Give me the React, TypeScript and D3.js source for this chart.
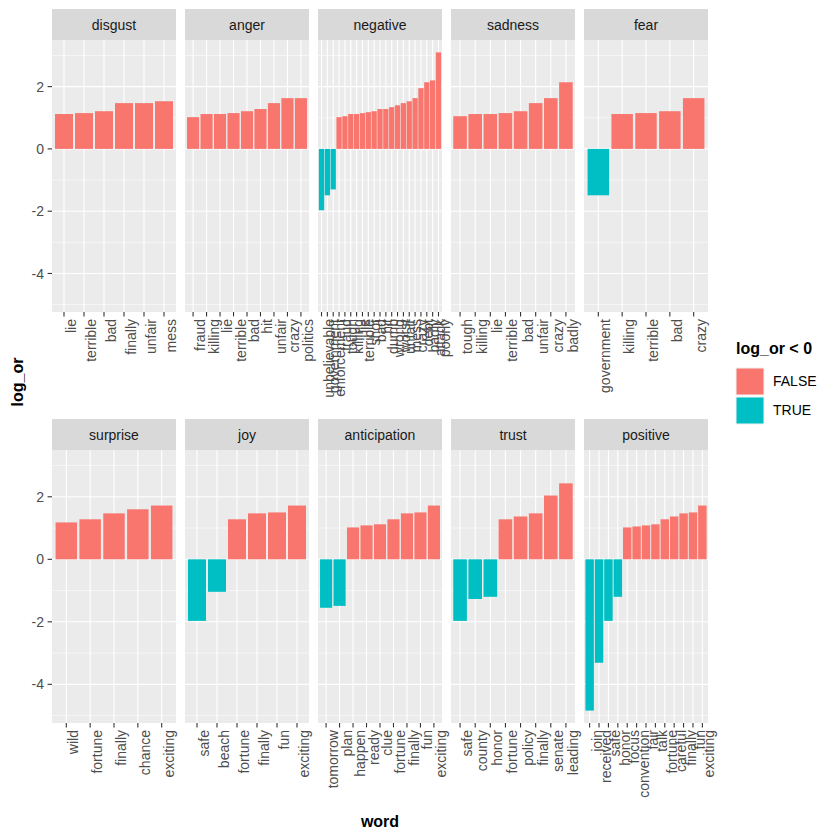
import React, { useEffect, useRef } from "react";
import * as d3 from "d3";

// words and log odds ratios per emotion
const disgustWords = ["lie", "terrible", "bad", "finally", "unfair", "mess"];
const disgustValues = [1.12, 1.15, 1.21, 1.47, 1.47, 1.53];

const angerWords = ["fraud", "killing", "lie", "terrible", "bad", "hit", "unfair", "crazy", "politics"];
const angerValues = [1.02, 1.12, 1.12, 1.15, 1.21, 1.28, 1.47, 1.63, 1.63];

const negativeWords = [
  "unbelievable", "government", "enforcement", "fraud", "tough", "killing", "lie",
  "terrible", "shot", "bad", "hit", "dumb", "wrong", "worst", "unfair", "mess",
  "crazy", "debt", "badly", "attack", "poorly",
];
const negativeValues = [
  -1.97, -1.49, -1.3, 1.02, 1.05, 1.12, 1.12, 1.15, 1.18, 1.21, 1.28, 1.28, 1.34,
  1.4, 1.47, 1.53, 1.63, 1.95, 2.14, 2.2, 3.1,
];

const sadnessWords = ["tough", "killing", "lie", "terrible", "bad", "unfair", "crazy", "badly"];
const sadnessValues = [1.05, 1.12, 1.12, 1.15, 1.21, 1.47, 1.63, 2.14];

const fearWords = ["government", "killing", "terrible", "bad", "crazy"];
const fearValues = [-1.49, 1.12, 1.15, 1.21, 1.63];

const surpriseWords = ["wild", "fortune", "finally", "chance", "exciting"];
const surpriseValues = [1.18, 1.28, 1.47, 1.6, 1.72];

const joyWords = ["safe", "beach", "fortune", "finally", "fun", "exciting"];
const joyValues = [-1.97, -1.04, 1.28, 1.47, 1.5, 1.72];

const anticipationWords = ["tomorrow", "plan", "happen", "ready", "clue", "fortune", "finally", "fun", "exciting"];
const anticipationValues = [-1.55, -1.49, 1.02, 1.085, 1.12, 1.28, 1.47, 1.5, 1.72];

const trustWords = ["safe", "county", "honor", "fortune", "policy", "finally", "senate", "leading"];
const trustValues = [-1.97, -1.27, -1.2, 1.28, 1.37, 1.47, 2.04, 2.43];

const positiveWords = [
  "join", "received", "safe", "honor", "focus", "convention", "fair", "talk",
  "fortune", "careful", "finally", "fun", "exciting",
];
const positiveValues = [-4.84, -3.31, -1.97, -1.2, 1.02, 1.05, 1.085, 1.12, 1.28, 1.37, 1.47, 1.5, 1.72];

const sentiments = ["disgust", "anger", "negative", "sadness", "fear", "surprise", "joy", "anticipation", "trust", "positive"];
const yTicks = [-4, -2, 0, 2];
const yMinor = [-5, -3, -1, 1, 3];
const legendLabels = ["FALSE", "TRUE"];

export default function App() {
  const ref = useRef(null);

  useEffect(() => {
    const root = d3.select(ref.current);
    root.selectAll("*").remove();

    const facets = [
      { name: sentiments[0], words: disgustWords, values: disgustValues },
      { name: sentiments[1], words: angerWords, values: angerValues },
      { name: sentiments[2], words: negativeWords, values: negativeValues },
      { name: sentiments[3], words: sadnessWords, values: sadnessValues },
      { name: sentiments[4], words: fearWords, values: fearValues },
      { name: sentiments[5], words: surpriseWords, values: surpriseValues },
      { name: sentiments[6], words: joyWords, values: joyValues },
      { name: sentiments[7], words: anticipationWords, values: anticipationValues },
      { name: sentiments[8], words: trustWords, values: trustValues },
      { name: sentiments[9], words: positiveWords, values: positiveValues },
    ];

    const font = "'Liberation Sans', Arial, sans-serif";
    const W = 840;
    const H = 840;
    const panelW = 124;
    const gap = 9;
    const left0 = 52;
    const stripH = 31;
    const rows = [
      { stripTop: 9, top: 40, bottom: 312 },
      { stripTop: 419, top: 450, bottom: 723 },
    ];

    const all = facets.flatMap((f) => f.values);
    const lo = d3.min(all);
    const hi = d3.max(all);
    const pad = (hi - lo) * 0.05;

    const color = d3.scaleOrdinal().domain(legendLabels).range(["#F8766D", "#00BFC4"]);

    const svg = root
      .append("svg")
      .attr("width", W)
      .attr("height", H)
      .style("font-family", font)
      .style("display", "block");

    svg.append("rect").attr("width", W).attr("height", H).attr("fill", "#FFFFFF");

    facets.forEach((f, i) => {
      const row = rows[Math.floor(i / 5)];
      const col = i % 5;
      const x0 = left0 + col * (panelW + gap);

      const x = d3
        .scalePoint()
        .domain(f.words.map((w, j) => j))
        .range([x0, x0 + panelW])
        .padding(0.6);
      const bw = x.step() * 0.9;

      const y = d3
        .scaleLinear()
        .domain([lo - pad, hi + pad])
        .range([row.bottom, row.top]);

      const g = svg.append("g");

      // strip
      g.append("rect")
        .attr("x", x0)
        .attr("y", row.stripTop)
        .attr("width", panelW)
        .attr("height", stripH)
        .attr("fill", "#D9D9D9");
      g.append("text")
        .attr("x", x0 + panelW / 2)
        .attr("y", row.stripTop + 21)
        .attr("text-anchor", "middle")
        .style("font-size", "14px")
        .style("fill", "#1A1A1A")
        .text(f.name);

      // panel background + grid
      g.append("rect")
        .attr("x", x0)
        .attr("y", row.top)
        .attr("width", panelW)
        .attr("height", row.bottom - row.top)
        .attr("fill", "#EBEBEB");

      g.selectAll(".minor")
        .data(yMinor)
        .enter()
        .append("line")
        .attr("x1", x0)
        .attr("x2", x0 + panelW)
        .attr("y1", (d) => y(d))
        .attr("y2", (d) => y(d))
        .attr("stroke", "#FFFFFF")
        .attr("stroke-width", 0.55);

      g.selectAll(".major")
        .data(yTicks)
        .enter()
        .append("line")
        .attr("x1", x0)
        .attr("x2", x0 + panelW)
        .attr("y1", (d) => y(d))
        .attr("y2", (d) => y(d))
        .attr("stroke", "#FFFFFF")
        .attr("stroke-width", 1.1);

      g.selectAll(".vgrid")
        .data(f.words.map((w, j) => j))
        .enter()
        .append("line")
        .attr("x1", (d) => x(d))
        .attr("x2", (d) => x(d))
        .attr("y1", row.top)
        .attr("y2", row.bottom)
        .attr("stroke", "#FFFFFF")
        .attr("stroke-width", 1.1);

      // bars
      g.selectAll(".bar")
        .data(f.values)
        .enter()
        .append("rect")
        .attr("x", (d, j) => x(j) - bw / 2)
        .attr("width", bw)
        .attr("y", (d) => y(Math.max(0, d)))
        .attr("height", (d) => Math.abs(y(d) - y(0)))
        .attr("fill", (d) => color(d < 0 ? "TRUE" : "FALSE"));

      // x axis ticks + labels
      g.selectAll(".xtick")
        .data(f.words.map((w, j) => j))
        .enter()
        .append("line")
        .attr("x1", (d) => x(d))
        .attr("x2", (d) => x(d))
        .attr("y1", row.bottom)
        .attr("y2", row.bottom + 4.4)
        .attr("stroke", "#333333")
        .attr("stroke-width", 1.1);

      g.selectAll(".xlab")
        .data(f.words)
        .enter()
        .append("text")
        .attr("transform", (d, j) => `translate(${x(j) + 12},${row.bottom + 7}) rotate(-90)`)
        .attr("text-anchor", "end")
        .style("font-size", "14px")
        .style("fill", "#4D4D4D")
        .text((d) => d);

      // y axis on first column
      if (col === 0) {
        g.selectAll(".ytick")
          .data(yTicks)
          .enter()
          .append("line")
          .attr("x1", x0 - 4.4)
          .attr("x2", x0)
          .attr("y1", (d) => y(d))
          .attr("y2", (d) => y(d))
          .attr("stroke", "#333333")
          .attr("stroke-width", 1.1);
        g.selectAll(".ylab")
          .data(yTicks)
          .enter()
          .append("text")
          .attr("x", x0 - 8)
          .attr("y", (d) => y(d))
          .attr("dy", "0.36em")
          .attr("text-anchor", "end")
          .style("font-size", "14px")
          .style("fill", "#4D4D4D")
          .text((d) => d);
      }
    });

    // axis titles
    svg
      .append("text")
      .attr("transform", "translate(23,382) rotate(-90)")
      .attr("text-anchor", "middle")
      .style("font-size", "16px")
      .style("font-weight", "bold")
      .text("log_or");
    svg
      .append("text")
      .attr("x", 380)
      .attr("y", 827)
      .attr("text-anchor", "middle")
      .style("font-size", "16px")
      .style("font-weight", "bold")
      .text("word");

    // legend
    const legend = svg.append("g").attr("transform", "translate(736,0)");
    legend
      .append("text")
      .attr("x", 0)
      .attr("y", 354)
      .style("font-size", "16px")
      .style("font-weight", "bold")
      .text("log_or < 0");
    legendLabels.forEach((lab, k) => {
      legend
        .append("rect")
        .attr("x", 0)
        .attr("y", 368 + k * 29)
        .attr("width", 28)
        .attr("height", 27)
        .attr("fill", color(lab))
        .attr("stroke", "#F2F2F2")
        .attr("stroke-width", 1);
      legend
        .append("text")
        .attr("x", 37)
        .attr("y", 381 + k * 29)
        .attr("dy", "0.36em")
        .style("font-size", "14px")
        .style("fill", "#000000")
        .text(lab);
    });
  }, []);

  return <div ref={ref} style={{ position: "absolute", left: 0, top: 0, width: 840, height: 840 }}></div>;
}
